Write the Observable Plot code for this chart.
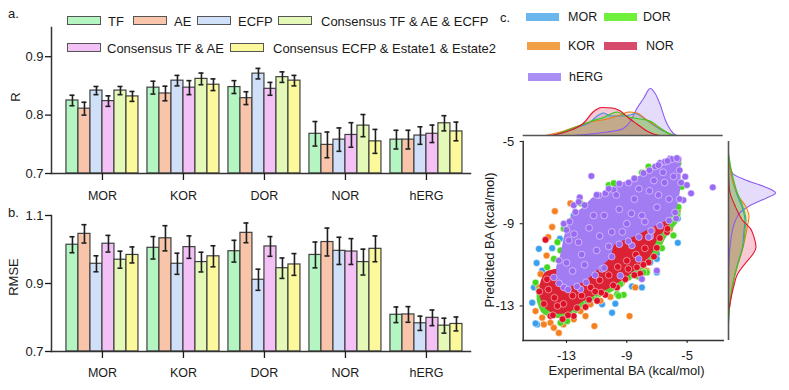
<!DOCTYPE html>
<html>
<head>
<meta charset="utf-8">
<script src="https://cdn.jsdelivr.net/npm/d3@7"></script>
<script src="https://cdn.jsdelivr.net/npm/@observablehq/plot@0.6"></script>
<style>
  body { margin: 0; background: #fff; font-family: "Liberation Sans", Arial, sans-serif; }
  #root { position: relative; width: 789px; height: 390px; overflow: hidden; background: #fff; }
</style>
</head>
<body>
<div id="root"></div>
<script>
// ---------------- Panels a & b: bar charts ----------------
const groups = ["MOR", "KOR", "DOR", "NOR", "hERG"];
const methods = ["TF", "AE", "ECFP", "Consensus TF & AE", "Consensus TF & AE & ECFP", "Consensus ECFP & Estate1 & Estate2"];
const methodColors = ["#b4f5c2", "#f8c5aa", "#cfe0f8", "#f3c1f5", "#e4f9b8", "#fbf99c"];
const rTicks = [0.7, 0.8, 0.9];
const rmseTicks = [0.7, 0.9, 1.1];

// R (panel a), per method, in group order
const rTF        = [0.825, 0.847, 0.848, 0.768, 0.758];
const rAE        = [0.811, 0.837, 0.829, 0.749, 0.758];
const rECFP      = [0.842, 0.859, 0.871, 0.758, 0.765];
const rConsTA    = [0.824, 0.847, 0.845, 0.766, 0.768];
const rConsTAE   = [0.842, 0.862, 0.865, 0.782, 0.786];
const rConsEst   = [0.832, 0.852, 0.859, 0.755, 0.772];
const rErrTF      = [0.009, 0.011, 0.011, 0.021, 0.016];
const rErrAE      = [0.011, 0.0125, 0.011, 0.022, 0.016];
const rErrECFP    = [0.007, 0.009, 0.009, 0.020, 0.015];
const rErrConsTA  = [0.009, 0.012, 0.011, 0.021, 0.015];
const rErrConsTAE = [0.007, 0.010, 0.009, 0.019, 0.013];
const rErrConsEst = [0.0085, 0.010, 0.009, 0.0205, 0.016];

// RMSE (panel b)
const rmseTF      = [1.014, 1.005, 0.995, 0.984, 0.808];
const rmseAE      = [1.046, 1.033, 1.049, 1.022, 0.809];
const rmseECFP    = [0.958, 0.958, 0.911, 0.996, 0.783];
const rmseConsTA  = [1.017, 1.007, 1.009, 0.994, 0.799];
const rmseConsTAE = [0.970, 0.963, 0.945, 0.963, 0.776];
const rmseConsEst = [0.984, 0.980, 0.956, 1.002, 0.781];
const rmseErrTF      = [0.0235, 0.033, 0.032, 0.038, 0.023];
const rmseErrAE      = [0.027, 0.037, 0.029, 0.041, 0.023];
const rmseErrECFP    = [0.0235, 0.031, 0.031, 0.040, 0.021];
const rmseErrConsTA  = [0.0245, 0.033, 0.029, 0.038, 0.023];
const rmseErrConsTAE = [0.025, 0.029, 0.030, 0.038, 0.022];
const rmseErrConsEst = [0.0235, 0.031, 0.032, 0.038, 0.0205];

// ---------------- Panel c: scatter + marginal densities ----------------
const targets = ["MOR", "DOR", "KOR", "NOR", "hERG"];
const scatterTicks = [-13, -9, -5];

// individual points [experimental, predicted]
const ptsMOR = [[-14.83,-10.22],[-13.95,-10.19],[-14.98,-10.91],[-14.61,-11.28],[-15.27,-12.84],[-14.94,-13.90],[-9.98,-13.33],[-13.44,-9.73],[-12.52,-8.59],[-10.64,-12.92],[-5.62,-8.75],[-5.62,-9.93],[-7.01,-10.47],[-7.01,-10.71],[-8.0,-12.10],[-8.66,-12.05],[-7.01,-11.37],[-7.45,-10.88],[-9.76,-12.89],[-15.16,-12.10],[-14.39,-12.26],[-11.41,-12.12],[-15.05,-13.85]];
const ptsKOR = [[-13.77,-8.39],[-12.74,-8.01],[-13.95,-9.16],[-14.21,-9.65],[-14.32,-10.55],[-14.72,-11.45],[-14.83,-12.10],[-15.05,-13.25],[-14.61,-13.57],[-14.06,-13.82],[-13.51,-14.31],[-11.15,-13.98],[-12.07,-13.25],[-11.41,-12.92],[-13.18,-13.49],[-12.52,-13.65],[-13.84,-14.06],[-5.58,-8.26],[-8.82,-13.49],[-7.67,-11.28],[-8.44,-12.10],[-9.32,-11.86],[-7.34,-10.30],[-6.13,-9.24],[-10.75,-12.75],[-10.09,-12.56],[-11.74,-13.49],[-14.39,-12.75],[-14.5,-13.9],[-13.2,-13.9]];
const ptsDOR = [[-10.20,-7.12],[-9.87,-7.03],[-12.07,-8.01],[-12.62,-8.83],[-13.18,-9.24],[-13.40,-10.30],[-13.84,-10.71],[-14.28,-11.12],[-15.05,-11.86],[-14.83,-12.26],[-13.95,-12.67],[-13.40,-13.82],[-12.95,-13.74],[-11.96,-12.59],[-11.63,-12.75],[-10.64,-12.18],[-9.65,-12.43],[-9.43,-11.94],[-10.31,-11.77],[-13.18,-13.08],[-7.56,-6.22],[-5.58,-8.18],[-5.80,-8.64],[-5.91,-9.57],[-6.67,-10.19],[-7.67,-11.37],[-8.22,-11.58],[-8.88,-11.61],[-9.21,-12.46],[-9.54,-12.51],[-8.0,-6.51],[-5.58,-6.05],[-5.35,-7.20],[-5.68,-8.59],[-7.89,-11.37],[-14.5,-12.4],[-14.0,-12.9],[-12.4,-13.2],[-11.0,-12.4],[-12.9,-10.2],[-13.6,-9.9]];
const ptsNOR = [[-14.39,-9.78],[-12.52,-13.49],[-10.97,-12.75],[-6.34,-9.41],[-7.34,-9.32],[-7.56,-10.88],[-8.33,-11.12],[-9.65,-12.10],[-7.01,-10.17],[-14.06,-13.49],[-13.26,-13.64],[-11.74,-13.05],[-10.42,-12.46],[-8.11,-11.43],[-14.8,-12.3],[-14.5,-12.9],[-13.9,-13.45],[-12.9,-13.45],[-12.3,-13.1],[-11.5,-12.7],[-10.7,-12.35],[-9.9,-12.0],[-9.1,-11.7],[-8.5,-11.5],[-7.9,-11.0],[-7.2,-10.6],[-6.8,-9.7],[-6.3,-9.25],[-13.8,-12.6],[-13.2,-12.9],[-12.6,-12.5],[-12.0,-12.5],[-11.4,-12.1],[-10.8,-11.75],[-10.2,-11.5],[-9.6,-11.1],[-9.0,-10.8],[-8.4,-10.5],[-7.8,-10.2],[-14.2,-12.2],[-14.3,-11.7],[-13.6,-13.0],[-11.1,-12.3],[-8.9,-11.2]];
const ptsHERG = [[-11.35,-6.68],[-12.12,-7.72],[-12.52,-8.10],[-13.18,-9.0],[-12.85,-9.81],[-13.51,-10.79],[-13.84,-11.61],[-13.18,-12.10],[-12.07,-12.18],[-10.64,-11.20],[-3.30,-7.23],[-4.74,-7.52],[-5.02,-7.12],[-5.13,-6.71],[-5.58,-5.86],[-6.13,-5.84],[-6.79,-6.04],[-5.25,-7.85],[-5.73,-8.74],[-7.45,-9.62],[-8.22,-10.71],[-7.01,-11.28],[-8.0,-11.69],[-9.43,-11.53],[-8.66,-10.06],[-7.56,-9.65],[-10.86,-7.61],[-10.42,-7.52],[-9.87,-7.36],[-8.88,-7.0],[-7.89,-6.54],[-7.12,-6.22],[-6.46,-5.98],[-6.01,-5.86],[-5.68,-5.81],[-12.19,-7.94],[-12.41,-8.43],[-13.0,-9.3],[-12.8,-8.9],[-11.8,-8.1],[-11.0,-7.6],[-10.2,-7.3],[-9.5,-7.05],[-8.5,-6.8],[-7.5,-6.4],[-6.9,-6.15],[-6.3,-5.95],[-13.5,-11.9],[-12.9,-12.2],[-12.3,-12.05],[-11.7,-11.85],[-11.1,-11.5],[-10.5,-11.15],[-10.0,-10.6],[-9.5,-10.0],[-8.9,-9.85],[-8.2,-9.65],[-7.4,-9.35],[-6.8,-9.1],[-6.2,-8.85],[-5.8,-8.45],[-5.5,-7.8],[-5.4,-7.0],[-5.5,-6.4],[-12.5,-9.5],[-12.0,-10.5],[-11.5,-9.2],[-11.0,-10.3],[-10.5,-8.6],[-10.0,-9.4],[-9.5,-8.3],[-9.0,-9.0],[-8.5,-7.8],[-8.0,-8.6],[-7.5,-7.4],[-7.0,-8.2],[-6.5,-7.0],[-6.2,-7.8],[-12.6,-11.3],[-11.8,-11.0],[-11.2,-8.6],[-10.2,-10.1],[-9.7,-7.6],[-8.7,-8.5],[-7.8,-8.9],[-7.2,-6.9],[-6.6,-6.5],[-5.9,-6.7],[-12.2,-9.9],[-10.8,-9.6],[-9.3,-9.4],[-8.2,-7.3],[-6.9,-7.6],[-13.0,-10.9]];

// dense cores of the point clouds: [experimental, predicted low, predicted high]
const coreDOR = [[-14.95,-12.7,-12.3],[-14.6,-13.35,-11.95],[-13.7,-13.6,-11.65],[-12.6,-13.5,-11.3],[-11.8,-13.0,-11.0],[-10.9,-12.65,-10.6],[-10.0,-12.35,-10.1],[-9.2,-11.95,-9.75],[-8.4,-11.5,-9.5],[-7.6,-11.05,-9.2],[-6.9,-10.5,-8.95],[-6.5,-9.85,-8.8],[-6.1,-9.4,-8.6],[-5.6,-8.95,-8.45],[-5.4,-8.6,-8.3]];
const coreNOR = [[-14.75,-12.55,-12.0],[-14.4,-13.1,-11.4],[-13.9,-13.35,-11.25],[-13.3,-13.4,-11.2],[-12.7,-13.3,-11.15],[-12.1,-12.9,-11.0],[-11.2,-12.55,-10.7],[-10.3,-12.22,-10.3],[-9.4,-11.82,-9.8],[-8.6,-11.38,-9.6],[-7.8,-10.9,-9.35],[-7.3,-10.45,-9.2],[-7.0,-9.85,-9.05],[-6.5,-9.35,-8.9],[-6.15,-9.1,-8.85]];
const coreHERG = [[-13.65,-11.6,-11.1],[-13.4,-11.95,-10.6],[-13.15,-12.1,-9.7],[-12.9,-12.12,-9.1],[-12.6,-12.05,-8.6],[-12.1,-11.93,-8.35],[-11.6,-11.75,-8.0],[-11.2,-11.45,-7.72],[-10.6,-11.05,-7.52],[-10.1,-10.7,-7.35],[-9.75,-10.0,-7.15],[-9.3,-9.86,-7.02],[-8.9,-9.75,-6.92],[-8.4,-9.62,-6.78],[-7.6,-9.32,-6.5],[-7.0,-9.1,-6.25],[-6.6,-8.97,-6.0],[-6.0,-8.69,-5.85],[-5.65,-8.2,-5.8],[-5.4,-7.2,-6.1]];

// marginal densities: top = [experimental, density], right = [predicted, density]
const topMOR  = [[-13.86,0],[-12.52,0.15],[-11.41,0.27],[-10.87,0.41],[-10.53,0.45],[-10.09,0.39],[-9.43,0.39],[-8.77,0.41],[-8.44,0.44],[-7.89,0.35],[-7.23,0.21],[-6.57,0.09],[-5.91,0.01],[-5.6,0]];
const topKOR  = [[-14.39,0],[-13.40,0.07],[-12.52,0.16],[-11.41,0.27],[-10.31,0.33],[-9.43,0.41],[-8.88,0.47],[-8.33,0.45],[-7.67,0.31],[-7.01,0.18],[-6.34,0.06],[-5.91,0]];
const topDOR  = [[-13.86,0],[-12.52,0.15],[-11.41,0.28],[-10.53,0.36],[-9.65,0.47],[-8.99,0.38],[-8.11,0.33],[-7.45,0.29],[-6.79,0.15],[-6.13,0.03],[-5.80,0]];
const topNOR  = [[-14.06,0],[-12.95,0.08],[-11.86,0.25],[-11.20,0.48],[-10.64,0.56],[-9.98,0.55],[-9.43,0.49],[-8.88,0.35],[-8.33,0.23],[-7.67,0.09],[-7.12,0.02],[-6.79,0]];
const topHERG = [[-12.52,0],[-11.41,0.03],[-10.31,0.07],[-9.65,0.10],[-9.23,0.14],[-8.77,0.28],[-8.33,0.54],[-7.89,0.74],[-7.45,0.94],[-7.12,0.84],[-6.79,0.62],[-6.46,0.32],[-6.24,0.18],[-5.91,0.04],[-5.68,0]];
const rightMOR  = [[-5.7,0],[-6.54,0.05],[-7.52,0.16],[-8.18,0.27],[-8.83,0.33],[-9.32,0.31],[-10.14,0.28],[-10.79,0.20],[-11.45,0.13],[-12.10,0.08],[-13.08,0.02],[-13.9,0]];
const rightKOR  = [[-5.89,0],[-6.87,0.08],[-7.69,0.21],[-8.18,0.35],[-8.67,0.41],[-9.08,0.38],[-9.49,0.35],[-10.14,0.29],[-10.79,0.21],[-11.45,0.13],[-12.10,0.08],[-12.75,0.04],[-13.41,0]];
const rightDOR  = [[-5.56,0],[-6.54,0.07],[-7.52,0.18],[-8.18,0.29],[-8.83,0.35],[-9.32,0.33],[-10.14,0.29],[-10.79,0.21],[-11.45,0.13],[-12.10,0.07],[-13.08,0.02],[-13.74,0]];
const rightNOR  = [[-6.5,0],[-7.36,0.02],[-8.18,0.14],[-8.83,0.28],[-9.24,0.44],[-9.65,0.51],[-10.14,0.55],[-10.47,0.49],[-10.88,0.35],[-11.45,0.18],[-12.10,0.10],[-12.75,0.04],[-13.25,0]];
const rightHERG = [[-5.89,0],[-6.54,0.08],[-6.87,0.34],[-7.20,0.72],[-7.50,0.94],[-7.77,0.74],[-8.10,0.44],[-8.43,0.24],[-8.83,0.14],[-9.32,0.08],[-10.14,0.03],[-10.79,0.01],[-11.5,0]];

// ---------------- helpers ----------------
const root = document.getElementById("root");
const FONT = "'Liberation Sans', Arial, sans-serif";
const INK = "#1a1a1a";
const svgStyle = {background: "transparent", overflow: "visible", fontFamily: FONT, fontSize: "13px", color: INK, maxWidth: "none"};

function place(node, left, top, w) {
  const d = document.createElement("div");
  d.style.cssText = `position:absolute;left:${left}px;top:${top}px;width:${w}px;`;
  d.appendChild(node);
  root.appendChild(d);
}
function txt(s, x, y, {size = 13, anchor = "start", rotate = false} = {}) {
  const d = document.createElement("div");
  d.textContent = s;
  const tx = anchor === "middle" ? "-50%" : anchor === "end" ? "-100%" : "0";
  d.style.cssText = `position:absolute;left:${x}px;top:${y}px;font-size:${size}px;line-height:1;white-space:nowrap;color:${INK};font-family:${FONT};`;
  d.style.transform = rotate ? "translate(-50%,-50%) rotate(-90deg)" : `translate(${tx},-50%)`;
  root.appendChild(d);
}
function swatch(x, y, w, h, color, border) {
  const d = document.createElement("div");
  d.style.cssText = `position:absolute;left:${x}px;top:${y - h / 2}px;width:${w}px;height:${h}px;background:${color};box-sizing:border-box;` + (border ? `border:1.3px solid ${border};` : "");
  root.appendChild(d);
}

// ---------------- bar panels ----------------
function barPanel(vals, errs, ticks, yMax, height, mt, mb, tickPad) {
  const W = 480, ml = 51, mr = 10, n = methods.length;
  const xOpts = {type: "band", domain: groups, paddingInner: 0.111, paddingOuter: 0.142, align: 0.65, round: false};
  const bw = Plot.scale({x: {...xOpts, range: [ml, W - mr]}}).bandwidth / n;
  const tables = methods.map((m, i) => groups.map((g, j) => ({group: g, method: m, v: vals[i][j], e: errs[i][j]})));
  const marks = [];
  tables.forEach((t, i) => marks.push(Plot.barY(t, {
    x: "group", y1: ticks[0], y2: "v", fill: methodColors[i], stroke: "#404040", strokeWidth: 1.2,
    insetLeft: i * bw, insetRight: (n - 1 - i) * bw
  })));
  const cap = 5;
  tables.forEach((t, i) => {
    marks.push(Plot.ruleX(t, {x: "group", y1: d => d.v - d.e, y2: d => d.v + d.e, dx: (i - (n - 1) / 2) * bw, stroke: "#1e1e1e", strokeWidth: 1.6}));
    const ci = (bw - cap) / 2;
    for (const f of [d => d.v - d.e, d => d.v + d.e]) {
      marks.push(Plot.tickY(t, {x: "group", y: f, insetLeft: i * bw + ci, insetRight: (n - 1 - i) * bw + ci, stroke: "#1e1e1e", strokeWidth: 1.6}));
    }
  });
  marks.push(
    Plot.frame({anchor: "left", stroke: "#333", strokeWidth: 1.5}),
    Plot.frame({anchor: "bottom", stroke: "#333", strokeWidth: 1.5}),
    Plot.axisY({ticks, tickFormat: d3.format(".1f"), tickSize: 6, tickPadding: 2, label: null, strokeWidth: 1.3, fontSize: 13}),
    Plot.axisX({tickSize: 7, tickPadding: tickPad, label: null, strokeWidth: 1.3, fontSize: 12.5})
  );
  return Plot.plot({
    width: W, height, marginLeft: ml, marginRight: mr, marginTop: mt, marginBottom: mb,
    x: xOpts, y: {domain: [ticks[0], yMax]},
    style: svgStyle, marks
  });
}

const rVals = [rTF, rAE, rECFP, rConsTA, rConsTAE, rConsEst];
const rErrs = [rErrTF, rErrAE, rErrECFP, rErrConsTA, rErrConsTAE, rErrConsEst];
const rmseVals = [rmseTF, rmseAE, rmseECFP, rmseConsTA, rmseConsTAE, rmseConsEst];
const rmseErrs = [rmseErrTF, rmseErrAE, rmseErrECFP, rmseErrConsTA, rmseErrConsTAE, rmseErrConsEst];

place(barPanel(rVals, rErrs, rTicks, 0.95, 200, 27, 27, 11), 0, 0, 480);
place(barPanel(rmseVals, rmseErrs, rmseTicks, 1.1, 190, 15, 39, 10), 0, 200, 480);

txt("a.", 8, 13);
txt("R", 15, 97, {rotate: true});
txt("b.", 8, 212);
txt("RMSE", 13, 277, {rotate: true});

// legend a
const legA = [
  {i: 0, sx: 67, tx: 108, y: 20.5}, {i: 1, sx: 133, tx: 174, y: 20.5}, {i: 2, sx: 197, tx: 238, y: 20.5},
  {i: 4, sx: 278, tx: 321, y: 20.5}, {i: 3, sx: 67, tx: 107, y: 47.5}, {i: 5, sx: 230, tx: 273, y: 47.5}
];
for (const l of legA) {
  swatch(l.sx, l.y, 34, 9, methodColors[l.i], "#555");
  txt(methods[l.i], l.tx, l.y);
}

// ---------------- panel c ----------------
const scX = [-15.87, -2.61];
const scY = [-14.68, -5.0];
const dotColor = {MOR: "#3aa0ee", KOR: "#f5801f", DOR: "#45d61f", NOR: "#de1028", hERG: "#9a6af2"};
const lineColor = {MOR: "#3d8fe0", KOR: "#f07a1c", DOR: "#3cc81e", NOR: "#e3132b", hERG: "#8b5cf0"};
const fillColor = {MOR: "#58aef0", KOR: "#f49a3c", DOR: "#5ee034", NOR: "#e84a72", hERG: "#a98cf6"};
const legColor = {MOR: "#6cb6ee", DOR: "#6ef03c", KOR: "#f2a044", NOR: "#d84a6c", hERG: "#a98ef6"};

const dotOpts = (c) => ({x: d => d[0], y: d => d[1], r: 3.4, fill: c, stroke: "white", strokeWidth: 0.6, strokeOpacity: 0.8});
const coreOpts = (c) => ({x: d => d[0], y1: d => d[1], y2: d => d[2], fill: c, curve: "catmull-rom"});

const scatter = Plot.plot({
  width: 255, height: 260, marginLeft: 52.7, marginRight: 2.3, marginTop: 11, marginBottom: 50,
  x: {domain: scX}, y: {domain: scY},
  style: svgStyle,
  marks: [
    Plot.dot(ptsMOR, dotOpts(dotColor.MOR)),
    Plot.dot(ptsKOR, dotOpts(dotColor.KOR)),
    Plot.areaY(coreDOR, coreOpts("#52d42e")),
    Plot.dot(ptsDOR, dotOpts(dotColor.DOR)),
    Plot.areaY(coreNOR, coreOpts("#da2234")),
    Plot.dot(ptsNOR, dotOpts(dotColor.NOR)),
    Plot.areaY(coreHERG, coreOpts("#a27cf2")),
    Plot.dot(ptsHERG, dotOpts(dotColor.hERG)),
    Plot.frame({anchor: "left", stroke: "#333", strokeWidth: 1.5}),
    Plot.frame({anchor: "bottom", stroke: "#333", strokeWidth: 1.5}),
    Plot.axisX({ticks: scatterTicks, tickFormat: d => String(d), tickSize: 3, tickPadding: 7, label: null, fontSize: 13}),
    Plot.axisY({ticks: scatterTicks, tickFormat: d => String(d), tickSize: 3, tickPadding: 6, label: null, fontSize: 13})
  ]
});

const topSeries = [["hERG", topHERG], ["MOR", topMOR], ["KOR", topKOR], ["DOR", topDOR], ["NOR", topNOR]];
const rightSeries = [["hERG", rightHERG], ["MOR", rightMOR], ["KOR", rightKOR], ["DOR", rightDOR], ["NOR", rightNOR]];

const topDens = Plot.plot({
  width: 255, height: 65, marginLeft: 52.7, marginRight: 2.3, marginTop: 10, marginBottom: 5,
  x: {domain: scX, axis: null}, y: {domain: [0, 1], axis: null},
  style: svgStyle,
  marks: [
    ...topSeries.map(([k, a]) => Plot.areaY(a, {x: d => d[0], y: d => d[1], fill: fillColor[k], fillOpacity: 0.3, curve: "monotone-x"})),
    ...topSeries.map(([k, a]) => Plot.lineY(a, {x: d => d[0], y: d => d[1], stroke: lineColor[k], strokeWidth: 1.1, curve: "monotone-x"})),
    Plot.ruleY([0], {stroke: "#555", strokeWidth: 1.6})
  ]
});

const rightDens = Plot.plot({
  width: 67, height: 260, marginLeft: 6, marginRight: 11, marginTop: 11, marginBottom: 50,
  x: {domain: [0, 1], axis: null}, y: {domain: scY, axis: null},
  style: svgStyle,
  marks: [
    ...rightSeries.map(([k, a]) => Plot.areaX(d3.sort(a, d => d[0]), {y: d => d[0], x: d => d[1], fill: fillColor[k], fillOpacity: 0.3, curve: "monotone-y"})),
    ...rightSeries.map(([k, a]) => Plot.lineX(d3.sort(a, d => d[0]), {y: d => d[0], x: d => d[1], stroke: lineColor[k], strokeWidth: 1.1, curve: "monotone-y"})),
    Plot.ruleX([0], {stroke: "#555", strokeWidth: 1.6})
  ]
});

place(topDens, 470, 75, 255);
place(scatter, 470, 130, 255);
place(rightDens, 722, 130, 67);

txt("c.", 500, 17);
txt("Predicted BA (kcal/mol)", 489, 240, {rotate: true});
txt("Experimental BA (kcal/mol)", 626.5, 370, {anchor: "middle"});

const legC = [
  {k: "MOR", sx: 526, tx: 568, y: 17}, {k: "DOR", sx: 604, tx: 643, y: 17},
  {k: "KOR", sx: 527, tx: 568, y: 46}, {k: "NOR", sx: 604, tx: 646, y: 46},
  {k: "hERG", sx: 528, tx: 569, y: 77}
];
for (const l of legC) {
  swatch(l.sx, l.y, 33, 8, legColor[l.k], null);
  txt(l.k, l.tx, l.y, {size: 12.5});
}
</script>
</body>
</html>
